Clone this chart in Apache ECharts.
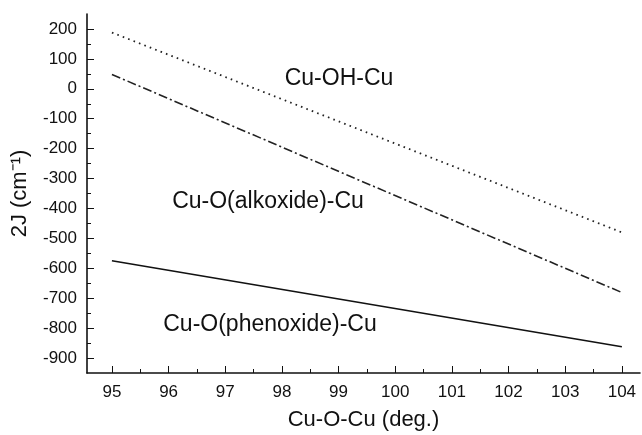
<!DOCTYPE html>
<html><head><meta charset="utf-8">
<script src="https://cdn.jsdelivr.net/npm/echarts@6/dist/echarts.min.js"></script>
<style>html,body{margin:0;padding:0;background:#fff}#c{width:642px;height:435px}</style>
</head><body><div id="c"></div>
<script>
const xTicks = [95, 96, 97, 98, 99, 100, 101, 102, 103, 104];
const xMinor = [95.5, 96.5, 97.5, 98.5, 99.5, 100.5, 101.5, 102.5, 103.5];
const yTicks = [200, 100, 0, -100, -200, -300, -400, -500, -600, -700, -800, -900];
const yMinor = [150, 50, -50, -150, -250, -350, -450, -550, -650, -750, -850];
const angles = [95, 104];
const cuOH = [188, -480];
const cuOalk = [48, -681];
const cuOphen = [-575, -862];
const labels = ['Cu-OH-Cu', 'Cu-O(alkoxide)-Cu', 'Cu-O(phenoxide)-Cu'];

const FONT = 'Liberation Sans, Arial, sans-serif';
const chart = echarts.init(document.getElementById('c'), null, {renderer: 'canvas'});
const mk = v => angles.map((a, i) => [a, v[i]]);
chart.setOption({
  animation: false,
  grid: {left: 87, right: 2, top: 14, bottom: 62, containLabel: false, outerBoundsMode: 'none'},
  xAxis: [
    {
      type: 'value', min: 94.56, max: 104.32,
      name: 'Cu-O-Cu (deg.)', nameLocation: 'middle', nameGap: 36,
      nameTextStyle: {fontFamily: FONT, fontSize: 22, color: '#111'},
      axisLine: {show: true, onZero: false, lineStyle: {color: '#111', width: 1.6}},
      splitLine: {show: false},
      axisTick: {show: true, inside: true, length: 7, customValues: xTicks, lineStyle: {color: '#111', width: 1}},
      axisLabel: {customValues: xTicks, fontFamily: FONT, fontSize: 17, color: '#111', margin: 11}
    },
    {
      type: 'value', min: 94.56, max: 104.32, position: 'bottom',
      axisLine: {show: false, onZero: false}, splitLine: {show: false},
      axisTick: {show: true, inside: true, length: 4, customValues: xMinor, lineStyle: {color: '#111', width: 1}},
      axisLabel: {show: false}
    }
  ],
  yAxis: [
    {
      type: 'value', min: -950, max: 250,
      name: '2J (cm⁻¹)', nameLocation: 'middle', nameGap: 56, nameRotate: 90,
      nameTextStyle: {fontFamily: FONT, fontSize: 22, color: '#111'},
      axisLine: {show: true, onZero: false, lineStyle: {color: '#111', width: 1.6}},
      splitLine: {show: false},
      axisTick: {show: true, inside: true, length: 7, customValues: yTicks, lineStyle: {color: '#111', width: 1}},
      axisLabel: {customValues: yTicks, fontFamily: FONT, fontSize: 17, color: '#111', margin: 10}
    },
    {
      type: 'value', min: -950, max: 250, position: 'left',
      axisLine: {show: false, onZero: false}, splitLine: {show: false},
      axisTick: {show: true, inside: true, length: 4, customValues: yMinor, lineStyle: {color: '#111', width: 1}},
      axisLabel: {show: false}
    }
  ],
  series: [
    {type: 'line', data: mk(cuOH), symbol: 'none', lineStyle: {color: '#222', width: 1.8, type: [1.6, 4.2]}},
    {type: 'line', data: mk(cuOalk), symbol: 'none', lineStyle: {color: '#222', width: 1.6, type: [9, 3, 2, 3]}},
    {type: 'line', data: mk(cuOphen), symbol: 'none', lineStyle: {color: '#111', width: 1.6}}
  ],
  graphic: [
    {type: 'text', x: 339, y: 79, style: {text: labels[0], font: '23px ' + FONT, fill: '#111', align: 'center', verticalAlign: 'middle'}},
    {type: 'text', x: 268, y: 202, style: {text: labels[1], font: '23px ' + FONT, fill: '#111', align: 'center', verticalAlign: 'middle'}},
    {type: 'text', x: 270, y: 325, style: {text: labels[2], font: '23px ' + FONT, fill: '#111', align: 'center', verticalAlign: 'middle'}}
  ]
});
</script></body></html>
